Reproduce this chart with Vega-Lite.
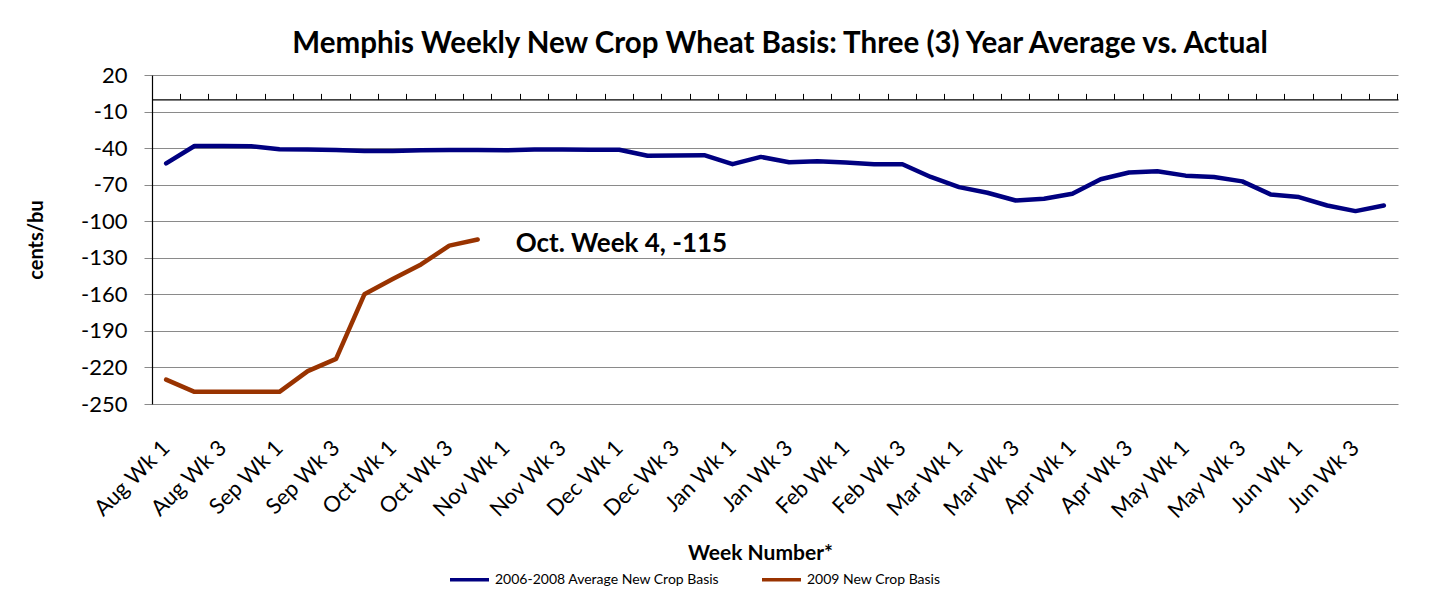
{
  "$schema": "https://vega.github.io/schema/vega-lite/v6.json",
  "autosize": "none",
  "width": 1246,
  "height": 329,
  "padding": {"left": 152, "top": 75, "right": 33, "bottom": 210},
  "background": "white",
  "config": {
    "view": {"stroke": null},
    "font": "Lato"
  },
  "title": {
    "text": "Memphis Weekly New Crop Wheat Basis: Three (3) Year Average vs. Actual",
    "font": "Lato",
    "fontSize": 29.5,
    "fontWeight": "bold",
    "color": "black",
    "anchor": "middle",
    "offset": 5,
    "dx": 5
  },
  "datasets": {
    "basis": [
      {"week": "Aug Wk 1", "series": "2006-2008 Average New Crop Basis", "basis": -52.5},
      {"week": "Aug Wk 2", "series": "2006-2008 Average New Crop Basis", "basis": -38.3},
      {"week": "Aug Wk 3", "series": "2006-2008 Average New Crop Basis", "basis": -38.3},
      {"week": "Aug Wk 4", "series": "2006-2008 Average New Crop Basis", "basis": -38.5},
      {"week": "Sep Wk 1", "series": "2006-2008 Average New Crop Basis", "basis": -41},
      {"week": "Sep Wk 2", "series": "2006-2008 Average New Crop Basis", "basis": -41.2},
      {"week": "Sep Wk 3", "series": "2006-2008 Average New Crop Basis", "basis": -41.6},
      {"week": "Sep Wk 4", "series": "2006-2008 Average New Crop Basis", "basis": -42.4},
      {"week": "Oct Wk 1", "series": "2006-2008 Average New Crop Basis", "basis": -42.4},
      {"week": "Oct Wk 2", "series": "2006-2008 Average New Crop Basis", "basis": -41.8},
      {"week": "Oct Wk 3", "series": "2006-2008 Average New Crop Basis", "basis": -41.6},
      {"week": "Oct Wk 4", "series": "2006-2008 Average New Crop Basis", "basis": -41.6},
      {"week": "Nov Wk 1", "series": "2006-2008 Average New Crop Basis", "basis": -41.8},
      {"week": "Nov Wk 2", "series": "2006-2008 Average New Crop Basis", "basis": -41.2},
      {"week": "Nov Wk 3", "series": "2006-2008 Average New Crop Basis", "basis": -41.2},
      {"week": "Nov Wk 4", "series": "2006-2008 Average New Crop Basis", "basis": -41.4},
      {"week": "Dec Wk 1", "series": "2006-2008 Average New Crop Basis", "basis": -41.4},
      {"week": "Dec Wk 2", "series": "2006-2008 Average New Crop Basis", "basis": -46.3},
      {"week": "Dec Wk 3", "series": "2006-2008 Average New Crop Basis", "basis": -46},
      {"week": "Dec Wk 4", "series": "2006-2008 Average New Crop Basis", "basis": -45.8},
      {"week": "Jan Wk 1", "series": "2006-2008 Average New Crop Basis", "basis": -53.2},
      {"week": "Jan Wk 2", "series": "2006-2008 Average New Crop Basis", "basis": -47.2},
      {"week": "Jan Wk 3", "series": "2006-2008 Average New Crop Basis", "basis": -51.6},
      {"week": "Jan Wk 4", "series": "2006-2008 Average New Crop Basis", "basis": -50.7},
      {"week": "Feb Wk 1", "series": "2006-2008 Average New Crop Basis", "basis": -51.8},
      {"week": "Feb Wk 2", "series": "2006-2008 Average New Crop Basis", "basis": -53.2},
      {"week": "Feb Wk 3", "series": "2006-2008 Average New Crop Basis", "basis": -53.2},
      {"week": "Feb Wk 4", "series": "2006-2008 Average New Crop Basis", "basis": -63.7},
      {"week": "Mar Wk 1", "series": "2006-2008 Average New Crop Basis", "basis": -72},
      {"week": "Mar Wk 2", "series": "2006-2008 Average New Crop Basis", "basis": -76.6},
      {"week": "Mar Wk 3", "series": "2006-2008 Average New Crop Basis", "basis": -83},
      {"week": "Mar Wk 4", "series": "2006-2008 Average New Crop Basis", "basis": -81.6},
      {"week": "Apr Wk 1", "series": "2006-2008 Average New Crop Basis", "basis": -77.4},
      {"week": "Apr Wk 2", "series": "2006-2008 Average New Crop Basis", "basis": -65.6},
      {"week": "Apr Wk 3", "series": "2006-2008 Average New Crop Basis", "basis": -60},
      {"week": "Apr Wk 4", "series": "2006-2008 Average New Crop Basis", "basis": -59},
      {"week": "May Wk 1", "series": "2006-2008 Average New Crop Basis", "basis": -62.6},
      {"week": "May Wk 2", "series": "2006-2008 Average New Crop Basis", "basis": -63.7},
      {"week": "May Wk 3", "series": "2006-2008 Average New Crop Basis", "basis": -67.3},
      {"week": "May Wk 4", "series": "2006-2008 Average New Crop Basis", "basis": -78},
      {"week": "Jun Wk 1", "series": "2006-2008 Average New Crop Basis", "basis": -80.2},
      {"week": "Jun Wk 2", "series": "2006-2008 Average New Crop Basis", "basis": -87.1},
      {"week": "Jun Wk 3", "series": "2006-2008 Average New Crop Basis", "basis": -91.7},
      {"week": "Jun Wk 4", "series": "2006-2008 Average New Crop Basis", "basis": -87.1},
      {"week": "Aug Wk 1", "series": "2009 New Crop Basis", "basis": -230},
      {"week": "Aug Wk 2", "series": "2009 New Crop Basis", "basis": -240},
      {"week": "Aug Wk 3", "series": "2009 New Crop Basis", "basis": -240},
      {"week": "Aug Wk 4", "series": "2009 New Crop Basis", "basis": -240},
      {"week": "Sep Wk 1", "series": "2009 New Crop Basis", "basis": -240},
      {"week": "Sep Wk 2", "series": "2009 New Crop Basis", "basis": -223},
      {"week": "Sep Wk 3", "series": "2009 New Crop Basis", "basis": -213},
      {"week": "Sep Wk 4", "series": "2009 New Crop Basis", "basis": -160},
      {"week": "Oct Wk 1", "series": "2009 New Crop Basis", "basis": -147.5},
      {"week": "Oct Wk 2", "series": "2009 New Crop Basis", "basis": -135.5},
      {"week": "Oct Wk 3", "series": "2009 New Crop Basis", "basis": -120},
      {"week": "Oct Wk 4", "series": "2009 New Crop Basis", "basis": -115}
    ],
    "note": [
      {"week": "Oct Wk 4", "basis": -115, "label": "Oct. Week 4, -115"}
    ]
  },
  "layer": [
    {
      "data": {"name": "basis"},
      "mark": {"type": "line", "strokeWidth": 4.5, "strokeJoin": "round", "strokeCap": "round"},
      "encoding": {
        "x": {
          "field": "week",
          "type": "ordinal",
          "bandPosition": 0.5,
          "sort": null,
          "scale": {
            "type": "band",
            "paddingInner": 0,
            "paddingOuter": 0,
            "domain": ["Aug Wk 1","Aug Wk 2","Aug Wk 3","Aug Wk 4","Sep Wk 1","Sep Wk 2","Sep Wk 3","Sep Wk 4","Oct Wk 1","Oct Wk 2","Oct Wk 3","Oct Wk 4","Nov Wk 1","Nov Wk 2","Nov Wk 3","Nov Wk 4","Dec Wk 1","Dec Wk 2","Dec Wk 3","Dec Wk 4","Jan Wk 1","Jan Wk 2","Jan Wk 3","Jan Wk 4","Feb Wk 1","Feb Wk 2","Feb Wk 3","Feb Wk 4","Mar Wk 1","Mar Wk 2","Mar Wk 3","Mar Wk 4","Apr Wk 1","Apr Wk 2","Apr Wk 3","Apr Wk 4","May Wk 1","May Wk 2","May Wk 3","May Wk 4","Jun Wk 1","Jun Wk 2","Jun Wk 3","Jun Wk 4"]
          },
          "axis": {
            "orient": "bottom",
            "values": ["Aug Wk 1","Aug Wk 3","Sep Wk 1","Sep Wk 3","Oct Wk 1","Oct Wk 3","Nov Wk 1","Nov Wk 3","Dec Wk 1","Dec Wk 3","Jan Wk 1","Jan Wk 3","Feb Wk 1","Feb Wk 3","Mar Wk 1","Mar Wk 3","Apr Wk 1","Apr Wk 3","May Wk 1","May Wk 3","Jun Wk 1","Jun Wk 3"],
            "domain": false,
            "ticks": false,
            "grid": false,
            "bandPosition": 0.5,
            "labelAngle": -45,
            "labelAlign": "right",
            "labelBaseline": "middle",
            "labelFont": "Lato",
            "labelFontSize": 22,
            "labelColor": "black",
            "labelPadding": 40,
            "labelOverlap": false,
            "labelLimit": 0,
            "title": "Week Number*",
            "titleFont": "Lato",
            "titleFontSize": 21,
            "titleFontWeight": "bold",
            "titleColor": "black",
            "titlePadding": 20,
            "titleX": 608
          }
        },
        "y": {
          "field": "basis",
          "type": "quantitative",
          "scale": {"domain": [-250, 20], "nice": false, "zero": false},
          "axis": {
            "values": [20, -10, -40, -70, -100, -130, -160, -190, -220, -250],
            "tickCount": 20,
            "labelExpr": "replace(format(datum.value, 'd'), '\u2212', '-')",
            "labelOverlap": false,
            "labelFlush": false,
            "grid": true,
            "gridColor": "#8a8a8a",
            "gridWidth": 1,
            "domain": true,
            "domainColor": "black",
            "domainWidth": 1.2,
            "ticks": true,
            "tickColor": "#8a8a8a",
            "tickSize": 8,
            "labelFont": "Lato",
            "labelFontSize": 22,
            "labelColor": "black",
            "labelPadding": 17,
            "title": "cents/bu",
            "titleFont": "Lato",
            "titleFontSize": 20,
            "titleFontWeight": "bold",
            "titleColor": "black",
            "titlePadding": 34
          }
        },
        "color": {
          "field": "series",
          "type": "nominal",
          "scale": {
            "domain": ["2006-2008 Average New Crop Basis", "2009 New Crop Basis"],
            "range": ["#000080", "#993300"]
          },
          "legend": {
            "orient": "none",
            "legendX": 296,
            "legendY": 483,
            "direction": "horizontal",
            "title": null,
            "labelFont": "Lato",
            "labelFontSize": 14,
            "labelColor": "black",
            "labelLimit": 0,
            "labelOffset": 4,
            "symbolType": "stroke",
            "symbolSize": 1521,
            "symbolStrokeWidth": 3.5,
            "columnPadding": 35
          }
        }
      }
    },
    {
      "data": {"name": "note"},
      "mark": {"type": "text", "align": "left", "baseline": "middle", "dx": 38, "dy": 4, "font": "Lato", "fontSize": 26, "fontWeight": "bold", "color": "black"},
      "encoding": {
        "x": {
          "field": "week",
          "type": "ordinal",
          "bandPosition": 0.5,
          "sort": null,
          "axis": {
            "orient": "top",
            "offset": -24.4,
            "labels": false,
            "title": null,
            "grid": false,
            "domain": true,
            "domainColor": "black",
            "domainWidth": 1.2,
            "ticks": true,
            "tickColor": "black",
            "tickSize": 6,
            "tickExtra": true,
            "bandPosition": 1
          }
        },
        "y": {"field": "basis", "type": "quantitative"},
        "text": {"field": "label"}
      }
    }
  ],
  "resolve": {"axis": {"x": "independent"}}
}
